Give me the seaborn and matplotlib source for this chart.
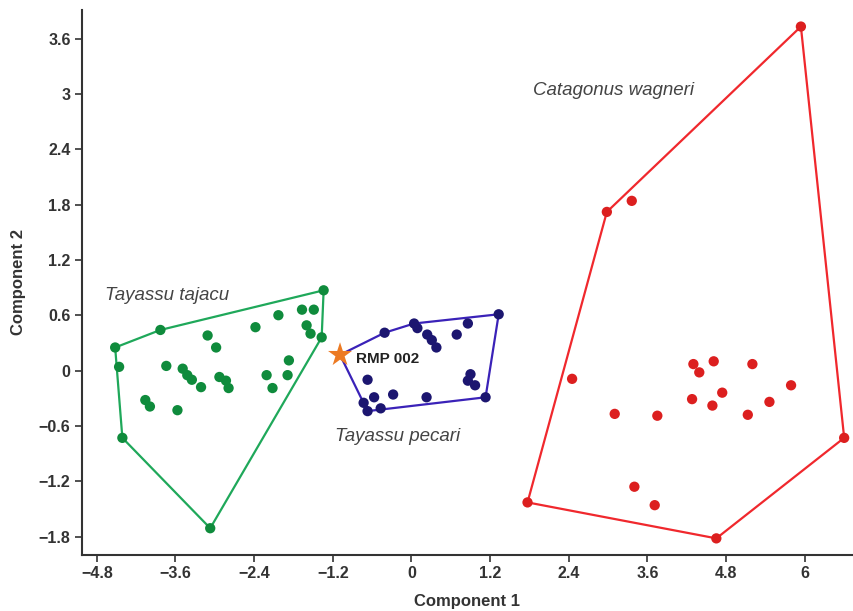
import numpy as np
import pandas as pd
import seaborn as sns
import matplotlib.pyplot as plt

# PCA scores
tajacu_x = [-1.34, -4.52, -4.46, -4.41, -3.07, -1.37, -3.83, -1.67, -1.49, -2.03,
            -2.38, -1.60, -1.54, -3.11, -2.98, -3.74, -3.49, -3.42, -3.35, -3.21,
            -2.93, -2.83, -2.79, -2.21, -2.12, -1.87, -1.89, -4.06, -3.99, -3.57]
tajacu_y = [0.87, 0.25, 0.04, -0.73, -1.71, 0.36, 0.44, 0.66, 0.66, 0.60,
            0.47, 0.49, 0.40, 0.38, 0.25, 0.05, 0.02, -0.05, -0.10, -0.18,
            -0.07, -0.11, -0.19, -0.05, -0.19, 0.11, -0.05, -0.32, -0.39, -0.43]

pecari_x = [-0.41, 0.04, 0.09, 0.86, 1.33, 0.24, 0.31, 0.38, 0.69, -0.67,
            0.90, 0.86, 0.97, -0.57, -0.28, 0.23, 1.13, -0.73, -0.67, -0.47]
pecari_y = [0.41, 0.51, 0.46, 0.51, 0.61, 0.39, 0.33, 0.25, 0.39, -0.10,
            -0.04, -0.11, -0.16, -0.29, -0.26, -0.29, -0.29, -0.35, -0.44, -0.41]

wagneri_x = [5.94, 2.98, 3.36, 1.77, 4.65, 6.60, 2.45, 3.10, 3.75, 3.40, 3.71,
             4.30, 4.39, 4.61, 5.20, 4.74, 4.28, 4.59, 5.46, 5.13, 5.79]
wagneri_y = [3.73, 1.72, 1.84, -1.43, -1.82, -0.73, -0.09, -0.47, -0.49, -1.26, -1.46,
             0.07, -0.02, 0.10, 0.07, -0.24, -0.31, -0.38, -0.34, -0.48, -0.16]

rmp_x, rmp_y = -1.09, 0.17

df = pd.concat([
    pd.DataFrame({'c1': tajacu_x, 'c2': tajacu_y, 'species': 'Tayassu tajacu'}),
    pd.DataFrame({'c1': pecari_x, 'c2': pecari_y, 'species': 'Tayassu pecari'}),
    pd.DataFrame({'c1': wagneri_x, 'c2': wagneri_y, 'species': 'Catagonus wagneri'}),
])

point_colors = {'Tayassu tajacu': '#0f8b3c', 'Tayassu pecari': '#1c1670',
                'Catagonus wagneri': '#dc1f1f'}
line_colors = {'Tayassu tajacu': '#1fa85a', 'Tayassu pecari': '#3a22b8',
               'Catagonus wagneri': '#f0282d'}


def convex_hull(pts):
    pts = sorted(set(map(tuple, pts)))
    def cross(o, a, b):
        return (a[0] - o[0]) * (b[1] - o[1]) - (a[1] - o[1]) * (b[0] - o[0])
    lower, upper = [], []
    for p in pts:
        while len(lower) >= 2 and cross(lower[-2], lower[-1], p) <= 0:
            lower.pop()
        lower.append(p)
    for p in reversed(pts):
        while len(upper) >= 2 and cross(upper[-2], upper[-1], p) <= 0:
            upper.pop()
        upper.append(p)
    hull = lower[:-1] + upper[:-1]
    return np.array(hull + [hull[0]])


sns.set_style("ticks")
plt.rcParams['font.family'] = ['Liberation Sans', 'DejaVu Sans']

fig = plt.figure(figsize=(8.54, 6.11), dpi=100)
ax = fig.add_axes([0.0957, 0.0917, 0.902, 0.892])

# hulls
for sp, g in df.groupby('species'):
    pts = g[['c1', 'c2']].values.tolist()
    if sp == 'Tayassu pecari':
        pts.append([rmp_x, rmp_y])
    h = convex_hull(pts)
    ax.plot(h[:, 0], h[:, 1], color=line_colors[sp], lw=1.6, zorder=2)

sns.scatterplot(data=df, x='c1', y='c2', hue='species', palette=point_colors,
                s=55, edgecolor='none', legend=False, ax=ax, zorder=3)
ax.scatter([rmp_x], [rmp_y], marker='*', s=330, color='#ec7a23', zorder=4,
           edgecolors='none')

ax.text(rmp_x + 0.25, rmp_y - 0.05, 'RMP 002', fontsize=11, fontweight='bold',
        color='#222222', va='center')
ax.text(-4.68, 0.81, 'Tayassu tajacu', fontsize=13.5, style='italic', color='#444444', va='center')
ax.text(-1.16, -0.72, 'Tayassu pecari', fontsize=13.5, style='italic', color='#444444', va='center')
ax.text(1.85, 3.04, 'Catagonus wagneri', fontsize=13.5, style='italic', color='#444444', va='center')

ax.set_xlim(-5.03, 6.72)
ax.set_ylim(-2.0, 3.91)
xt = [-4.8, -3.6, -2.4, -1.2, 0, 1.2, 2.4, 3.6, 4.8, 6]
yt = [-1.8, -1.2, -0.6, 0, 0.6, 1.2, 1.8, 2.4, 3, 3.6]
ax.set_xticks(xt)
ax.set_xticklabels(['\u22124.8', '\u22123.6', '\u22122.4', '\u22121.2', '0', '1.2', '2.4', '3.6', '4.8', '6'])
ax.set_yticks(yt)
ax.set_yticklabels(['\u22121.8', '\u22121.2', '\u22120.6', '0', '0.6', '1.2', '1.8', '2.4', '3', '3.6'])
for lab in ax.get_xticklabels() + ax.get_yticklabels():
    lab.set_fontweight('bold')
    lab.set_fontsize(11.5)
    lab.set_color('#333333')
ax.tick_params(direction='out', length=5, width=1.2, color='#333333', pad=3)

ax.set_xlabel('Component 1', fontsize=12, fontweight='bold', color='#333333', labelpad=9)
ax.set_ylabel('Component 2', fontsize=12, fontweight='bold', color='#333333', labelpad=9)

sns.despine(ax=ax)
for s in ['left', 'bottom']:
    ax.spines[s].set_linewidth(1.5)
    ax.spines[s].set_color('#333333')

fig.savefig('out.png', dpi=100)
